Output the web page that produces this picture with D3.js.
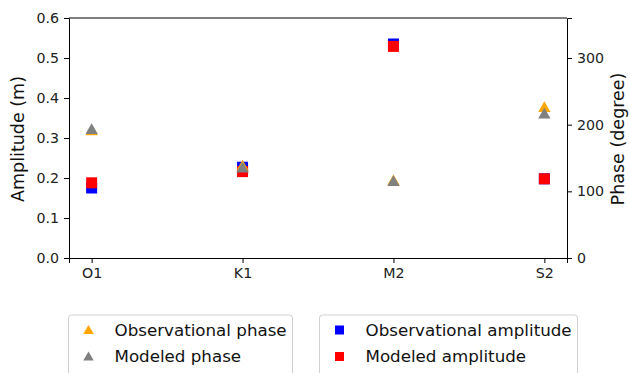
<!DOCTYPE html>
<html>
<head>
<meta charset="utf-8">
<script src="https://cdn.jsdelivr.net/npm/d3@7"></script>
<style>
  body { margin: 0; background: #fff; }
  svg { font-family: "DejaVu Sans", sans-serif; }
</style>
</head>
<body>
<div id="chart"></div>
<script>
// tidal constituents
const constituents = ["O1", "K1", "M2", "S2"];
const obsAmplitude = [0.175, 0.227, 0.535, 0.198];
const modAmplitude = [0.188, 0.216, 0.529, 0.198];
const obsPhase = [191, 138, 116, 226];
const modPhase = [193, 135, 115, 216];

const ampTicks = [0, 0.1, 0.2, 0.3, 0.4, 0.5, 0.6];
const phaseTicks = [0, 100, 200, 300];

const width = 630, height = 373;
const margin = {left: 69, right: 63, top: 18, bottom: 115};
const plotW = width - margin.left - margin.right;
const plotH = height - margin.top - margin.bottom;

const svg = d3.select("#chart").append("svg")
    .attr("width", width)
    .attr("height", height);

const x = d3.scaleLinear()
    .domain([-0.15, constituents.length - 1 + 0.15])
    .range([margin.left, margin.left + plotW]);

const yAmp = d3.scaleLinear()
    .domain([0, 0.6])
    .range([margin.top + plotH, margin.top]);

const yPhase = d3.scaleLinear()
    .domain([0, 360])
    .range([margin.top + plotH, margin.top]);

// axes
const xAxis = svg.append("g")
    .attr("transform", `translate(0,${margin.top + plotH})`)
    .call(d3.axisBottom(x).tickValues(d3.range(constituents.length)).tickFormat(i => constituents[i]).tickSizeOuter(0).tickSize(5).tickPadding(5));

const leftAxis = svg.append("g")
    .attr("transform", `translate(${margin.left},0)`)
    .call(d3.axisLeft(yAmp).tickValues(ampTicks).tickFormat(d3.format(".1f")).tickSizeOuter(0).tickSize(5).tickPadding(5));

const rightAxis = svg.append("g")
    .attr("transform", `translate(${margin.left + plotW},0)`)
    .call(d3.axisRight(yPhase).tickValues(phaseTicks).tickSizeOuter(0).tickSize(5).tickPadding(5));

// top frame line
svg.append("line")
    .attr("x1", margin.left).attr("x2", margin.left + plotW)
    .attr("y1", margin.top).attr("y2", margin.top)
    .attr("stroke", "#000").attr("stroke-width", 1);

[xAxis, leftAxis, rightAxis].forEach(a => {
  a.selectAll("text").attr("font-size", 14.2).attr("fill", "#222").attr("font-family", "DejaVu Sans, sans-serif");
  a.selectAll("path, line").attr("stroke", "#000");
});

svg.append("text")
    .attr("transform", `translate(24,${margin.top + plotH / 2 + 1}) rotate(-90)`)
    .attr("text-anchor", "middle")
    .attr("font-size", 17.5)
    .attr("fill", "#111")
    .text("Amplitude (m)");

svg.append("text")
    .attr("transform", `translate(${width - 6},${margin.top + plotH / 2 + 1}) rotate(-90)`)
    .attr("text-anchor", "middle")
    .attr("font-size", 17.5)
    .attr("fill", "#111")
    .text("Phase (degree)");

const sq = 11;
const tri = d3.symbol().type(d3.symbolTriangle).size(66);

function squares(vals, color) {
  svg.append("g").selectAll("rect")
    .data(vals)
    .join("rect")
      .attr("x", (d, i) => x(i) - sq / 2)
      .attr("y", d => yAmp(d) - sq / 2)
      .attr("width", sq).attr("height", sq)
      .attr("fill", color);
}

function triangles(vals, color) {
  svg.append("g").selectAll("path")
    .data(vals)
    .join("path")
      .attr("d", tri)
      .attr("transform", (d, i) => `translate(${x(i)},${yPhase(d) + 1})`)
      .attr("fill", color);
}

squares(obsAmplitude, "blue");
squares(modAmplitude, "red");
triangles(obsPhase, "orange");
triangles(modPhase, "gray");

// legends
function legend(x0, y0, w, items) {
  const g = svg.append("g").attr("transform", `translate(${x0},${y0})`);
  g.append("rect")
      .attr("width", w).attr("height", 66)
      .attr("rx", 3)
      .attr("fill", "#fff")
      .attr("stroke", "#d0d0d0");
  const row = g.selectAll("g")
    .data(items)
    .join("g")
      .attr("transform", (d, i) => `translate(0,${15 + i * 26.5})`);
  row.each(function(d) {
    const r = d3.select(this);
    if (d.shape === "square") {
      r.append("rect").attr("x", 20 - 4.5).attr("y", -4.5).attr("width", 9).attr("height", 9).attr("fill", d.color);
    } else {
      r.append("path").attr("d", d3.symbol().type(d3.symbolTriangle).size(48)).attr("transform", "translate(20,1)").attr("fill", d.color);
    }
    r.append("text")
      .attr("x", 46).attr("y", 0).attr("dy", "0.35em")
      .attr("font-size", 16.7)
      .attr("fill", "#111")
      .text(d.label);
  });
}

legend(68.5, 315, 224, [
  {label: "Observational phase", color: "orange", shape: "triangle"},
  {label: "Modeled phase", color: "gray", shape: "triangle"}
]);
legend(319.5, 315, 258, [
  {label: "Observational amplitude", color: "blue", shape: "square"},
  {label: "Modeled amplitude", color: "red", shape: "square"}
]);
</script>
</body>
</html>
